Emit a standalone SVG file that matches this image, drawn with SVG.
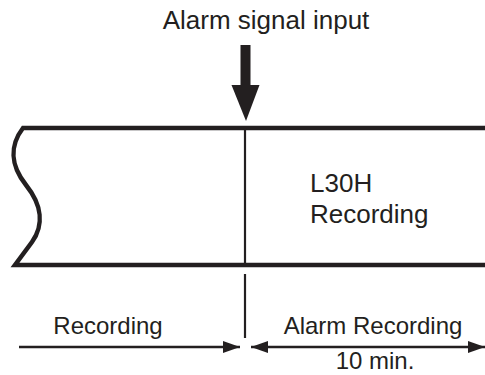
<svg xmlns="http://www.w3.org/2000/svg" width="485" height="375" viewBox="0 0 485 375">
<style>
text{font-family:"Liberation Sans",Arial,sans-serif;font-size:24px;fill:#231f20}
.big{font-size:26px}
.thick{stroke:#231f20;stroke-width:4.5;fill:none}
.thin{stroke:#231f20;stroke-width:2.2;fill:none}
.arr{stroke:#231f20;stroke-width:2.5;fill:none}
</style>
<defs>
<marker id="ah" viewBox="0 0 17 12" refX="17" refY="6" markerWidth="17" markerHeight="12" markerUnits="userSpaceOnUse" orient="auto-start-reverse">
<path d="M0,0 L17,6 L0,12 Z" fill="#231f20"/>
</marker>
</defs>
<g id="title">
<text class="big" x="266" y="29" text-anchor="middle">Alarm signal input</text>
</g>
<g id="input-arrow">
<rect x="240.5" y="45" width="10" height="41" fill="#231f20"/>
<path d="M231.5,85 L259.5,85 L246,121 Z" fill="#231f20"/>
</g>
<g id="tape">
<path class="thick" d="M485,128 L23,128 C10,145 10,165 26,185 C42,205 44,225 32,242 L15,265 L485,265"/>
<line class="thin" x1="245" y1="128" x2="245" y2="265"/>
<text class="big" x="310" y="192">L30H</text>
<text class="big" x="310" y="223">Recording</text>
</g>
<g id="connectors">
<line class="thin" x1="245" y1="274" x2="245" y2="338"/>
<line class="arr" x1="19" y1="347" x2="240" y2="347" marker-end="url(#ah)"/>
<line class="arr" x1="251" y1="347" x2="485" y2="347" marker-start="url(#ah)" marker-end="url(#ah)"/>
</g>
<g id="labels">
<text x="108" y="334" text-anchor="middle">Recording</text>
<text x="373" y="334" text-anchor="middle">Alarm Recording</text>
<text x="375" y="369" text-anchor="middle">10 min.</text>
</g>
</svg>
